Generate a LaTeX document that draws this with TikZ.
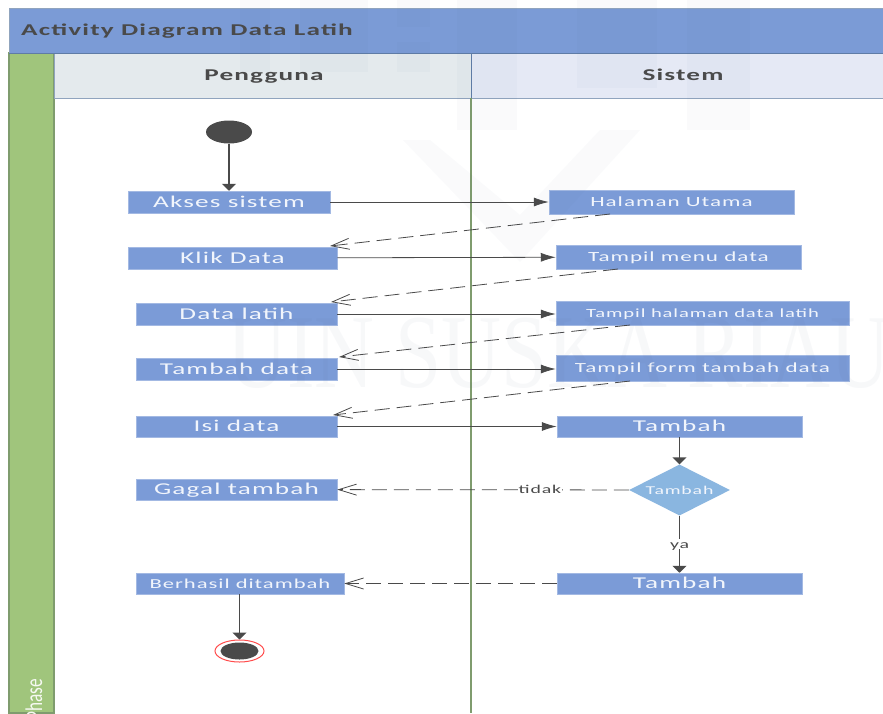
\documentclass[tikz,border=0pt]{standalone}
\usepackage{fontspec}
\usetikzlibrary{arrows.meta,calc,shapes.geometric}
\setmainfont{Carlito}
\newfontfamily\wide[FakeStretch=1.65,LetterSpace=7]{Carlito}
\newfontfamily\narrow[FakeStretch=0.72]{Carlito}
\newfontfamily\wmfont[FakeStretch=0.79]{Liberation Serif}
\definecolor{band}{HTML}{7B9BD6}
\definecolor{boxb}{HTML}{7B9BD7}
\definecolor{dia}{HTML}{8AB6E0}
\definecolor{grn}{HTML}{A0C57C}
\definecolor{grnl}{HTML}{7F9C6E}
\definecolor{ink}{HTML}{4A4A4A}
\definecolor{hdA}{HTML}{E4EAED}
\definecolor{hdB}{HTML}{E5E9F5}
\definecolor{hl}{HTML}{90A4BE}
\definecolor{hld}{HTML}{5F7CA6}
\definecolor{txt}{HTML}{F1F5FC}
\definecolor{wm}{HTML}{50608A}
\tikzset{
 act/.style={fill=boxb,draw=boxb!70!white,line width=.5pt,text=txt,inner sep=0,anchor=center,text height=#1*0.66pt,text depth=0pt,font=\wide\fontsize{#1}{#1}\selectfont},
 hdtext/.style={text=ink,inner sep=0,text height=#1*0.66pt,text depth=0pt,font=\wide\bfseries\fontsize{#1}{#1}\selectfont},
 flow/.style={draw=ink,line width=.8pt,-{Latex[length=15pt,width=9pt]}},
 down/.style={draw=ink,line width=1.5pt,-{Triangle[length=7pt,width=14pt]}},
 back/.style={draw=ink,line width=.8pt,dash pattern=on 15pt off 7pt,-{Straight Barb[length=18pt,width=11pt,line width=.8pt]}},
 lab/.style={text=ink,fill=white,inner sep=1pt,text height=#1*0.66pt,text depth=0pt,font=\wide\fontsize{#1}{#1}\selectfont},
 mark wm/.style={fill=wm,fill opacity=.028,draw=none},
}
\newcommand{\actnode}[7]{\node[act=#7,minimum width=#4pt-#2pt,minimum height=#5pt-#3pt] (#6) at ({(#2+#4)/2},{(#3+#5)/2}) {#1};}
\begin{document}
\begin{tikzpicture}[x=1pt,y=-1pt]
\useasboundingbox (0,0) rectangle (883,713);
\path[fill=white] (0,0) rectangle (883,713);
% swimlane frame
\path[fill=grn,draw=grnl,line width=1.4pt] (9,53) rectangle (54,713);
\path[fill=band,draw=hl,line width=1pt] (9,8) rectangle (883,53);
\path[fill=hdA,draw=hl,line width=1pt] (54,53) rectangle (471,98);
\path[fill=hdB,draw=hl,line width=1pt] (471,53) rectangle (883,98);
\draw[hld,line width=1pt] (9,53) -- (883,53);
\draw[grnl,line width=1.6pt] (471,98) -- (471,713);
\draw[hld,line width=1pt] (471,53) -- (471,98);
\node[hdtext=16.5,anchor=west] (title) at (21,30) {Activity Diagram Data Latih};
\node[hdtext=16.5] (peng) at (264,75) {Pengguna};
\node[hdtext=16.5] (sist) at (683,75) {Sistem};
\node[text=white!90!grn,rotate=90,anchor=base east,inner sep=0,font=\narrow\fontsize{24}{24}\selectfont] (phase) at (42,679) {Phase};
% terminals
\node[ellipse,fill=ink,minimum width=46pt,minimum height=23pt,inner sep=0] (start) at (229,132) {};
\node[ellipse,draw=red!70!white,line width=1pt,fill=white,minimum width=49pt,minimum height=22pt,inner sep=0] (endo) at (239.5,651) {};
\node[ellipse,fill=ink,minimum width=38pt,minimum height=17pt,inner sep=0] (endi) at (239.5,651) {};
% activities
\actnode{Akses sistem}{128}{191}{330}{213}{a}{16.5}
\actnode{Klik Data}{128}{247}{337}{269}{b}{16.5}
\actnode{Data latih}{136}{303}{337}{325}{c}{16.5}
\actnode{Tambah data}{136}{358}{337}{380}{d}{16.5}
\actnode{Isi data}{136}{416}{337}{437}{e}{16.5}
\actnode{Gagal tambah}{136}{479}{337}{500}{f}{16.5}
\actnode{Berhasil ditambah}{136}{573}{344}{594}{g}{13.7}
\actnode{Halaman Utama}{549}{190}{794}{214}{p}{14}
\actnode{Tampil menu data}{556}{245}{801}{269}{q}{14}
\actnode{Tampil halaman data latih}{556}{301}{849}{325}{r}{12.5}
\actnode{Tampil form tambah data}{556}{355}{849}{381}{s}{14}
\actnode{Tambah}{557}{416}{802}{437}{t}{16.5}
\actnode{Tambah}{557}{573}{802}{594}{u}{16.5}
\node[diamond,aspect=2,fill=dia,text=txt,inner sep=0,minimum width=101pt,minimum height=51pt,text height=8pt,text depth=0pt,font=\wide\fontsize{12}{12}\selectfont] (dec) at (679.5,490) {Tambah};
% connector ends
\coordinate (p0) at (610,214); \coordinate (b0) at (330,246);
\coordinate (q0) at (618,269); \coordinate (c0) at (331,302);
\coordinate (r0) at (630,325); \coordinate (d0) at (339,357);
\coordinate (s0) at (630,381); \coordinate (e0) at (333,415);
\draw[down] (start) -- (a.north -| start);
\draw[flow] (a) -- (p);
\draw[flow] (b) -- (q);
\draw[flow] (c) -- (c -| r.west);
\draw[flow] (d) -- (d -| s.west);
\draw[flow] (e) -- (t);
\draw[back] (p0) -- (b0);
\draw[back] (q0) -- (c0);
\draw[back] (r0) -- (d0);
\draw[back] (s0) -- (e0);
\draw[down] (t) -- (dec);
\draw[down] (dec) -- node[lab=12] (ya) {ya} (u);
\draw[back] (dec) -- node[lab=12,pos=.305] (tidak) {tidak} (f);
\draw[back] (u) -- (g);
\draw[down] (g.south -| endo) -- (endo);
% faint watermark lying over the page
\node[text=wm,text opacity=.045,anchor=base west,inner sep=0,font=\wmfont\fontsize{105}{105}\selectfont] (wmark) at (227,387) {UIN SUSKA RIAU};
\path[mark wm] (240,0) rectangle (270,72);
\path[mark wm] (300,0) rectangle (368,72);
\path[mark wm] (397,0) rectangle (430,27);
\path[mark wm] (397,42) rectangle (430,72);
\path[mark wm] (457,0) rectangle (517,130);
\path[mark wm] (577,0) rectangle (657,88);
\path[mark wm] (687,0) rectangle (750,130);
\path[mark wm] (403,140) -- (430,140) -- (520,215) -- (600,130) -- (640,130) -- (520,262) -- cycle;
\end{tikzpicture}
\end{document}
